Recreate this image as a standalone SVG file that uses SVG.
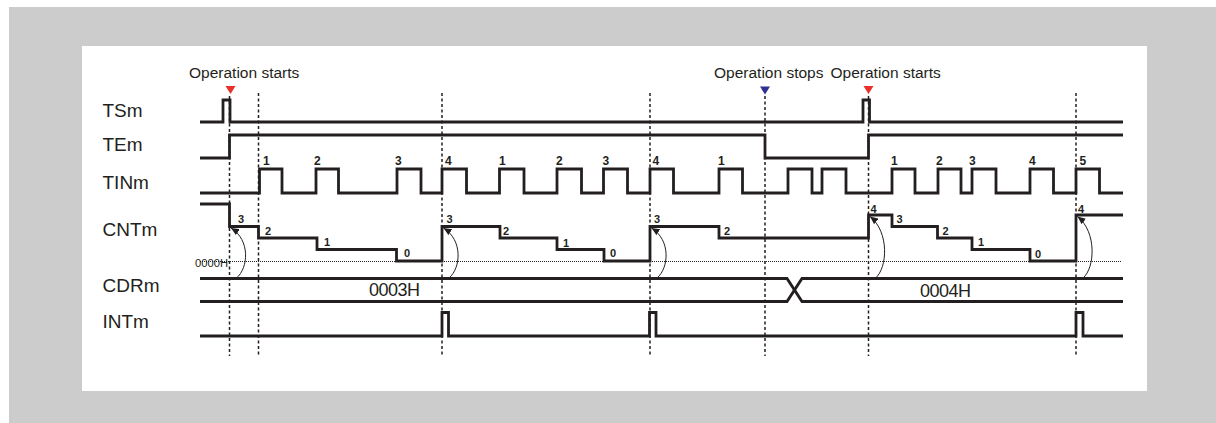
<svg xmlns="http://www.w3.org/2000/svg" width="1216" height="423" viewBox="0 0 1216 423">
<style>
.lbl{font-family:"Liberation Sans",Arial,sans-serif;font-size:19px;fill:#231f20}
.op{font-family:"Liberation Sans",Arial,sans-serif;font-size:15.5px;fill:#231f20}
.val{font-family:"Liberation Sans",Arial,sans-serif;font-size:18px;fill:#231f20;letter-spacing:-0.5px}
.tn{font-family:"Liberation Sans",Arial,sans-serif;font-size:12px;font-weight:bold;fill:#231f20}
.cn{font-family:"Liberation Sans",Arial,sans-serif;font-size:11px;font-weight:bold;fill:#231f20}
.wave{fill:none;stroke:#231f20;stroke-width:2.8;stroke-linejoin:miter;stroke-linecap:butt}
.dash{fill:none;stroke:#231f20;stroke-width:1.5;stroke-dasharray:3 2.5}
.dot{fill:none;stroke:#231f20;stroke-width:1;stroke-dasharray:1 1}
.arc{fill:none;stroke:#231f20;stroke-width:1;marker-end:url(#ah)}
</style>
<defs>
<marker id="ah" markerUnits="userSpaceOnUse" markerWidth="9" markerHeight="7" refX="8" refY="3.5" orient="auto">
<path d="M0,0 L8,3.5 L0,7 z" fill="#231f20"/>
</marker>
</defs>
<rect x="9" y="7" width="1207" height="416" fill="#cccccc"/>
<rect x="82" y="46" width="1065" height="345" fill="#ffffff"/>

<g id="events">
<text class="op" x="189" y="78.3">Operation starts</text>
<text class="op" x="714" y="78.3">Operation stops</text>
<text class="op" x="830.5" y="78.3">Operation starts</text>
<polygon points="225.5,86 235.5,86 230.5,94" fill="#e8302a"/>
<polygon points="760,86.5 770,86.5 765,94.5" fill="#2e3192"/>
<polygon points="863.5,86 873.5,86 868.5,94" fill="#e8302a"/>
</g>

<g id="guides">
<line class="dash" x1="229.5" y1="96" x2="229.5" y2="356"/>
<line class="dash" x1="258.5" y1="93" x2="258.5" y2="356"/>
<line class="dash" x1="442" y1="93" x2="442" y2="356"/>
<line class="dash" x1="650" y1="93" x2="650" y2="356"/>
<line class="dash" x1="765" y1="96" x2="765" y2="356"/>
<line class="dash" x1="868.5" y1="96" x2="868.5" y2="356"/>
<line class="dash" x1="1076" y1="93" x2="1076" y2="356"/>
</g>

<g id="TSm">
<text class="lbl" x="102.5" y="117.3">TSm</text>
<path class="wave" d="M200,122 H223 V100 H230 V122 H863 V100 H869.5 V122 H1123"/>
</g>

<g id="TEm">
<text class="lbl" x="102.5" y="150.7">TEm</text>
<path class="wave" d="M200,158 H229.5 V135 H765 V158 H868.5 V135 H1123"/>
</g>

<g id="TINm">
<text class="lbl" x="102.5" y="189">TINm</text>
<path class="wave" d="M200,193 H259.5 V169 H282 V193 H316 V169 H338.5 V193 H397 V169 H421 V193 H442 V169 H466.5 V193 H499.5 V169 H524 V193 H557 V169 H581.5 V193 H603.5 V169 H627.5 V193 H650 V169 H673.5 V193 H719 V169 H742.5 V193 H788 V169 H812 V193 H822 V169 H846 V193 H892 V169 H915 V193 H938 V169 H961 V193 H972 V169 H996 V193 H1030 V169 H1053.5 V193 H1076 V169 H1099.5 V193 H1123"/>
<text class="tn" x="263" y="164.5">1</text>
<text class="tn" x="314" y="164.5">2</text>
<text class="tn" x="395" y="164.5">3</text>
<text class="tn" x="445" y="164.5">4</text>
<text class="tn" x="499" y="164.5">1</text>
<text class="tn" x="556" y="164.5">2</text>
<text class="tn" x="602.5" y="164.5">3</text>
<text class="tn" x="652.5" y="164.5">4</text>
<text class="tn" x="718" y="164.5">1</text>
<text class="tn" x="891" y="164.5">1</text>
<text class="tn" x="936" y="164.5">2</text>
<text class="tn" x="969" y="164.5">3</text>
<text class="tn" x="1029" y="164.5">4</text>
<text class="tn" x="1079.5" y="164.5">5</text>
</g>

<g id="CNTm">
<text class="lbl" x="102.5" y="235.7">CNTm</text>
<line class="dot" x1="200" y1="261.5" x2="1122" y2="261.5"/>
<text x="195" y="266.5" font-family="Liberation Sans, Arial, sans-serif" font-size="10" fill="#231f20" textLength="33" lengthAdjust="spacingAndGlyphs">0000H</text>
<path class="wave" d="M200,204 H229.5 V226.5 H258.5 V238 H317 V249.5 H396.5 V261 H442 V226.5 H500 V238 H557 V249.5 H604 V261 H650 V226.5 H719 V238 H868.5 V215 H892 V226.5 H937.5 V238 H972 V249.5 H1030 V261 H1076 V215 H1123"/>
<text class="cn" x="238" y="222.5">3</text>
<text class="cn" x="265" y="235">2</text>
<text class="cn" x="324" y="245.5">1</text>
<text class="cn" x="404" y="257">0</text>
<text class="cn" x="446.5" y="223">3</text>
<text class="cn" x="503" y="235">2</text>
<text class="cn" x="563" y="246.5">1</text>
<text class="cn" x="610" y="257">0</text>
<text class="cn" x="654" y="223">3</text>
<text class="cn" x="724" y="234.5">2</text>
<text class="cn" x="870.5" y="213">4</text>
<text class="cn" x="896.5" y="223">3</text>
<text class="cn" x="942.5" y="235">2</text>
<text class="cn" x="978" y="246">1</text>
<text class="cn" x="1035" y="258">0</text>
<text class="cn" x="1078" y="212.5">4</text>
</g>

<g id="CDRm">
<text class="lbl" x="102.5" y="292.3">CDRm</text>
<path class="wave" d="M200,278.5 H787 L802,301.5 H1123"/>
<path class="wave" d="M200,301.5 H787 L802,278.5 H1123"/>
<text class="val" x="369" y="295.5">0003H</text>
<text class="val" x="920" y="296.5">0004H</text>
</g>

<g id="INTm">
<text class="lbl" x="102.5" y="328.3">INTm</text>
<path class="wave" d="M200,336 H442 V312.5 H448.5 V336 H649.5 V312.5 H656 V336 H1076 V312.5 H1083 V336 H1123"/>
</g>

<g id="connectors">
<path class="arc" d="M236.5,278 C248.5,268 250.5,240 231,228"/>
<path class="arc" d="M449,278 C461,268 463,240 443.5,228"/>
<path class="arc" d="M657,278 C669,268 671,240 651.5,228"/>
<path class="arc" d="M875.5,278 C887.5,268 889.5,232 870,216.5"/>
<path class="arc" d="M1083,278 C1095,268 1097,232 1077.5,216.5"/>
</g>
</svg>
